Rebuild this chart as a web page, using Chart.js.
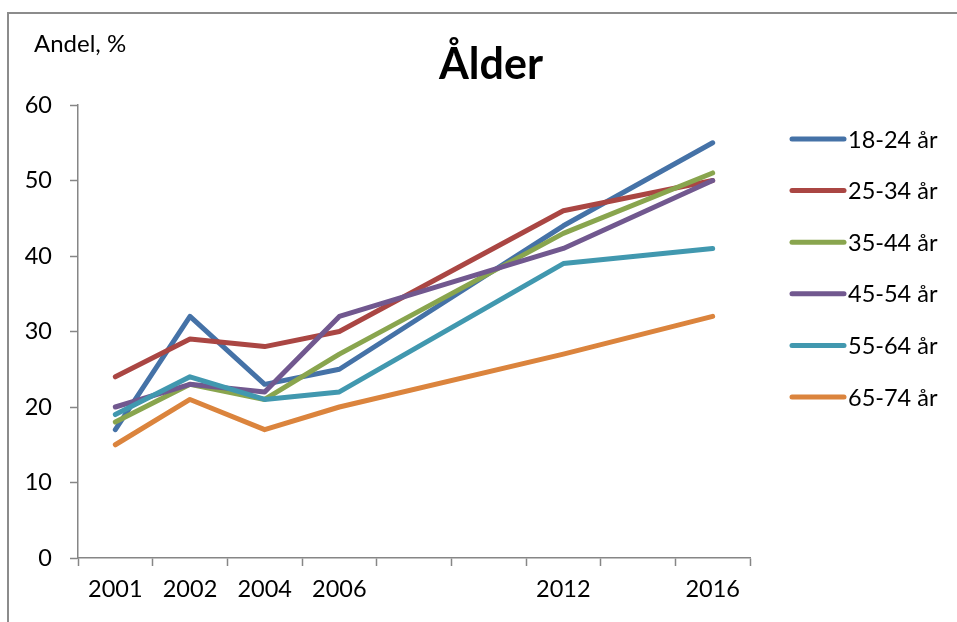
<!DOCTYPE html>
<html>
<head>
<meta charset="utf-8">
<script src="https://cdn.jsdelivr.net/npm/chart.js@4"></script>
<style>
  html, body { margin: 0; padding: 0; background: #fff; }
  #wrap { width: 957px; height: 622px; position: relative; }
</style>
</head>
<body>
<div id="wrap"><canvas id="myChart" width="957" height="622"></canvas></div>
<script>
// Categories on the x axis (empty slots keep the spacing between survey years)
const years = ['2001', '2002', '2004', '2006', '', '', '2012', '', '2016']

// Series names and colours
const ageGroups = ['18-24 år', '25-34 år', '35-44 år', '45-54 år', '55-64 år', '65-74 år']
const colors = ['#4572A7', '#AA4643', '#89A54E', '#71588F', '#4198AF', '#DB843D']

// Values per age group, share in %
const age18to24 = [17, 32, 23, 25, null, null, 44, null, 55]
const age25to34 = [24, 29, 28, 30, null, null, 46, null, 50]
const age35to44 = [18, 23, 21, 27, null, null, 43, null, 51]
const age45to54 = [20, 23, 22, 32, null, null, 41, null, 50]
const age55to64 = [19, 24, 21, 22, null, null, 39, null, 41]
const age65to74 = [15, 21, 17, 20, null, null, 27, null, 32]

// Y axis range
const yMin = 0
const yMax = 60
const yStep = 10

const seriesValues = [age18to24, age25to34, age35to44, age45to54, age55to64, age65to74]
const fontFamily = 'Lato, "Open Sans", sans-serif'
const axisGray = '#868686'

// Frame, title, unit text and legend
const decorations = {
  id: 'decorations',
  beforeDraw(chart) {
    let ctx = chart.ctx
    ctx.save()
    ctx.strokeStyle = '#8c8c8c'
    ctx.lineWidth = 2
    ctx.beginPath()
    ctx.moveTo(8, 622)
    ctx.lineTo(8, 13)
    ctx.lineTo(957, 13)
    ctx.stroke()
    ctx.restore()
  },
  afterDraw(chart) {
    let ctx = chart.ctx
    ctx.save()
    ctx.fillStyle = '#000'

    // Title
    ctx.font = `bold 43px ${fontFamily}`
    ctx.textAlign = 'center'
    ctx.textBaseline = 'alphabetic'
    ctx.fillText('Ålder', 491, 79)

    // Unit label
    ctx.font = `24px ${fontFamily}`
    ctx.textAlign = 'left'
    ctx.fillText('Andel, %', 34, 52)

    // Legend
    ctx.font = `23.5px ${fontFamily}`
    ctx.textBaseline = 'middle'
    chart.data.datasets.forEach(function(ds, i) {
      let y = 139 + i * 51.6
      ctx.strokeStyle = ds.borderColor
      ctx.lineWidth = 5
      ctx.lineCap = 'round'
      ctx.beginPath()
      ctx.moveTo(792, y)
      ctx.lineTo(844, y)
      ctx.stroke()
      ctx.fillText(ds.label, 848, y + 1)
    })
    ctx.restore()
  }
}

new Chart(document.getElementById('myChart'), {
  type: 'line',
  data: {
    labels: years,
    datasets: ageGroups.map(function(name, i) {
      return {
        label: name,
        data: seriesValues[i],
        borderColor: colors[i],
        backgroundColor: colors[i],
        borderWidth: 5,
        borderCapStyle: 'round',
        borderJoinStyle: 'round',
        pointRadius: 0,
        pointHoverRadius: 0,
        spanGaps: true,
        tension: 0,
        fill: false,
        order: ageGroups.length - i
      }
    })
  },
  options: {
    responsive: false,
    animation: false,
    events: [],
    layout: { padding: { left: 0, top: 105, right: 207, bottom: 0 } },
    plugins: {
      legend: { display: false },
      title: { display: false },
      tooltip: { enabled: false }
    },
    scales: {
      x: {
        type: 'category',
        offset: true,
        afterFit: function(scale) { scale.height = 64 },
        grid: {
          offset: true,
          drawOnChartArea: false,
          drawTicks: true,
          tickLength: 8,
          tickColor: axisGray,
          tickWidth: 1.5
        },
        border: { color: axisGray, width: 1.5 },
        ticks: {
          color: '#000',
          font: { family: fontFamily, size: 23.5 },
          padding: 9,
          maxRotation: 0,
          autoSkip: false
        }
      },
      y: {
        min: yMin,
        max: yMax,
        afterFit: function(scale) { scale.width = 78 },
        grid: {
          drawOnChartArea: false,
          drawTicks: true,
          tickLength: 8,
          tickColor: axisGray,
          tickWidth: 1.5
        },
        border: { color: axisGray, width: 1.5 },
        ticks: {
          stepSize: yStep,
          color: '#000',
          font: { family: fontFamily, size: 23.5 },
          padding: 18
        }
      }
    }
  },
  plugins: [decorations]
})
</script>
</body>
</html>
